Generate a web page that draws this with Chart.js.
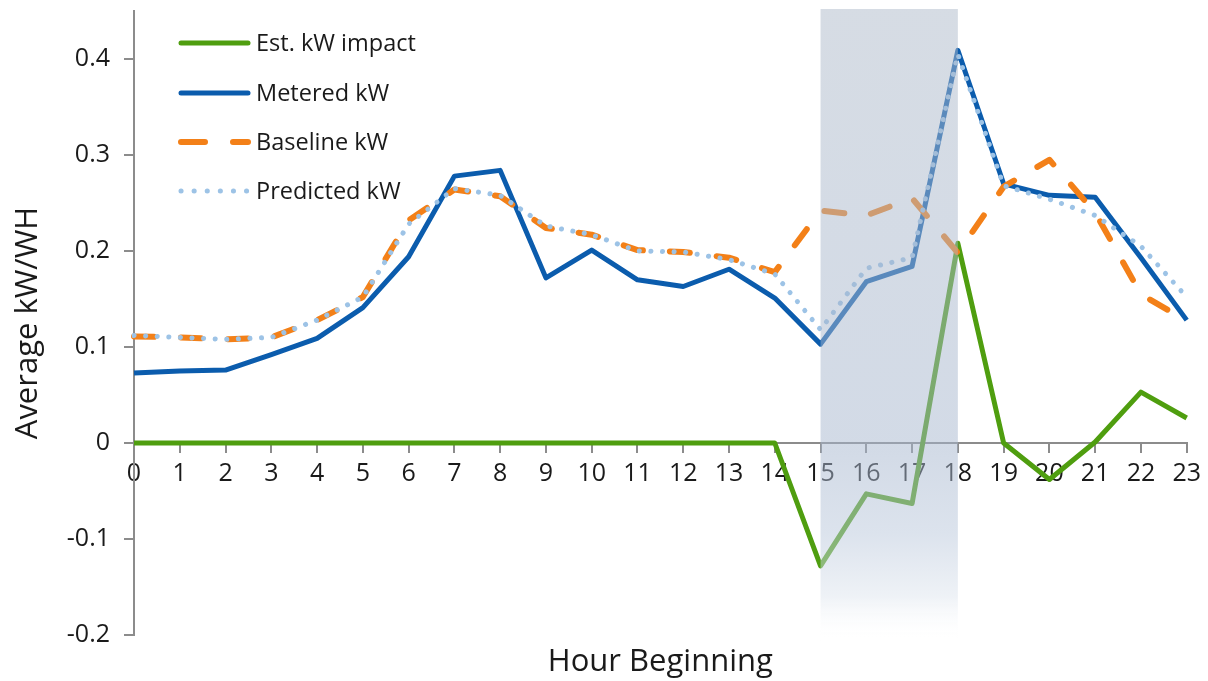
<!DOCTYPE html>
<html>
<head>
<meta charset="utf-8">
<script src="https://cdn.jsdelivr.net/npm/chart.js@4.4.1/dist/chart.umd.min.js"></script>
<style>
  body { margin: 0; background: #fff; }
  #wrap { width: 1208px; height: 681px; position: relative; }
</style>
</head>
<body>
<div id="wrap"><canvas id="chart"></canvas></div>
<script>
// hour of day
const hours = ['0','1','2','3','4','5','6','7','8','9','10','11','12','13','14','15','16','17','18','19','20','21','22','23'];

const estImpact = [0, 0, 0, 0, 0, 0, 0, 0, 0, 0, 0, 0, 0, 0, 0, -0.128, -0.053, -0.063, 0.208, 0.0, -0.038, 0.001, 0.053, 0.026];
const metered   = [0.073, 0.075, 0.076, 0.092, 0.109, 0.141, 0.194, 0.278, 0.284, 0.172, 0.201, 0.170, 0.163, 0.181, 0.151, 0.103, 0.168, 0.184, 0.409, 0.270, 0.258, 0.256, 0.193, 0.128];
const baseline  = [0.111, 0.110, 0.108, 0.110, 0.128, 0.152, 0.232, 0.264, 0.257, 0.224, 0.217, 0.201, 0.199, 0.193, 0.178, 0.242, 0.237, 0.255, 0.198, 0.267, 0.295, 0.240, 0.155, 0.127];
const predicted = [0.112, 0.110, 0.108, 0.110, 0.128, 0.152, 0.228, 0.265, 0.258, 0.226, 0.217, 0.200, 0.199, 0.191, 0.176, 0.118, 0.182, 0.193, 0.405, 0.268, 0.254, 0.237, 0.205, 0.152];

const eventHours = ['15', '18'];  // shaded event window
const yTicks = [-0.2, -0.1, 0, 0.1, 0.2, 0.3, 0.4];

const FONT = '"Open Sans", "DejaVu Sans", sans-serif';
const TXT = '#1a1a1a';
const AXIS = '#8c8c8c';

const green = '#4f9e0f';
const blue = '#0b5cad';
const orange = '#f38018';
const lightBlue = '#9dc3e6';

// shaded event band, drawn on top so the lines look faded under it
const eventBand = {
    id: 'eventBand',
    afterDraw(chart) {
        const {ctx, chartArea, scales} = chart;
        const x1 = scales.x.getPixelForValue(hours.indexOf(eventHours[0]));
        const x2 = scales.x.getPixelForValue(hours.indexOf(eventHours[1]));
        const top = chartArea.top - 2;
        const bottom = chartArea.bottom + 6;
        const g = ctx.createLinearGradient(0, top, 0, bottom);
        g.addColorStop(0, 'rgba(173,185,201,0.5)');
        g.addColorStop(0.7, 'rgba(166,182,206,0.5)');
        g.addColorStop(0.83, 'rgba(185,199,219,0.5)');
        g.addColorStop(0.93, 'rgba(222,229,238,0.5)');
        g.addColorStop(1, 'rgba(255,255,255,0)');
        ctx.save();
        ctx.fillStyle = g;
        ctx.fillRect(x1, top, x2 - x1, bottom - top);
        ctx.restore();
    }
};

// legend drawn as a column in the upper left of the plot
const legendItems = [
    {label: 'Est. kW impact', color: green, width: 5, dash: []},
    {label: 'Metered kW', color: blue, width: 5, dash: []},
    {label: 'Baseline kW', color: orange, width: 6, dash: [24, 28]},
    {label: 'Predicted kW', color: lightBlue, width: 5, dash: [0.1, 13]}
];

const columnLegend = {
    id: 'columnLegend',
    afterDraw(chart) {
        const ctx = chart.ctx;
        const rows = [43, 93, 142, 191];
        ctx.save();
        ctx.font = '23.5px ' + FONT;
        ctx.textBaseline = 'middle';
        ctx.fillStyle = TXT;
        legendItems.forEach((it, i) => {
            const y = rows[i];
            ctx.beginPath();
            ctx.strokeStyle = it.color;
            ctx.lineWidth = it.width;
            ctx.lineCap = 'round';
            ctx.setLineDash(it.dash);
            ctx.moveTo(181, y);
            ctx.lineTo(248, y);
            ctx.stroke();
            ctx.setLineDash([]);
            ctx.fillText(it.label, 256, y + 1);
        });
        ctx.restore();
    }
};

function fmt(v) {
    const r = Math.round(v * 10) / 10;
    return r === 0 ? '0' : String(r);
}

new Chart(document.getElementById('chart'), {
    type: 'line',
    data: {
        labels: hours,
        datasets: [
            {label: 'Est. kW impact', data: estImpact, borderColor: green, borderWidth: 5, order: 4},
            {label: 'Metered kW', data: metered, borderColor: blue, borderWidth: 5, order: 3},
            {label: 'Baseline kW', data: baseline, borderColor: orange, borderWidth: 6,
             borderDash: [20, 27], borderCapStyle: 'round', order: 2},
            {label: 'Predicted kW', data: predicted, borderColor: lightBlue, borderWidth: 5,
             borderDash: [0.1, 11.5], borderCapStyle: 'round', order: 1}
        ]
    },
    options: {
        responsive: true,
        maintainAspectRatio: false,
        animation: false,
        elements: {
            point: {radius: 0, hoverRadius: 0},
            line: {tension: 0, fill: false, borderJoinStyle: 'round'}
        },
        layout: {padding: {top: 11, right: 20, left: 0, bottom: 0}},
        scales: {
            x: {
                type: 'category',
                position: {y: 0},
                offset: false,
                afterFit: (s) => { s.paddingTop = 0; s.paddingBottom = 0; },
                ticks: {
                    font: {family: FONT, size: 25},
                    color: TXT,
                    padding: 7,
                    maxRotation: 0,
                    autoSkip: false
                },
                grid: {drawOnChartArea: false, drawTicks: true, tickLength: 9, color: AXIS, lineWidth: 2},
                border: {color: AXIS, width: 2}
            },
            x2: {
                type: 'category',
                position: 'bottom',
                offset: false,
                afterFit: (s) => { s.height = 46; },
                ticks: {display: false},
                grid: {display: false},
                border: {display: false},
                title: {
                    display: true,
                    text: 'Hour Beginning',
                    font: {family: FONT, size: 31},
                    color: TXT,
                    padding: {top: 8, bottom: 0}
                }
            },
            y: {
                min: -0.2,
                max: 0.45,
                afterBuildTicks: (s) => { s.ticks = yTicks.map(v => ({value: v})); },
                afterFit: (s) => { s.width = 134; s.paddingTop = 0; s.paddingBottom = 0; },
                ticks: {
                    font: {family: FONT, size: 25},
                    color: TXT,
                    padding: 14,
                    callback: (v) => fmt(v)
                },
                grid: {drawOnChartArea: false, drawTicks: true, tickLength: 10, color: AXIS, lineWidth: 2},
                border: {color: AXIS, width: 2},
                title: {
                    display: true,
                    text: 'Average kW/WH',
                    font: {family: FONT, size: 31},
                    color: TXT,
                    padding: {top: 10, bottom: 0}
                }
            }
        },
        plugins: {
            legend: {display: false},
            tooltip: {enabled: false}
        }
    },
    plugins: [eventBand, columnLegend]
});
</script>
</body>
</html>
